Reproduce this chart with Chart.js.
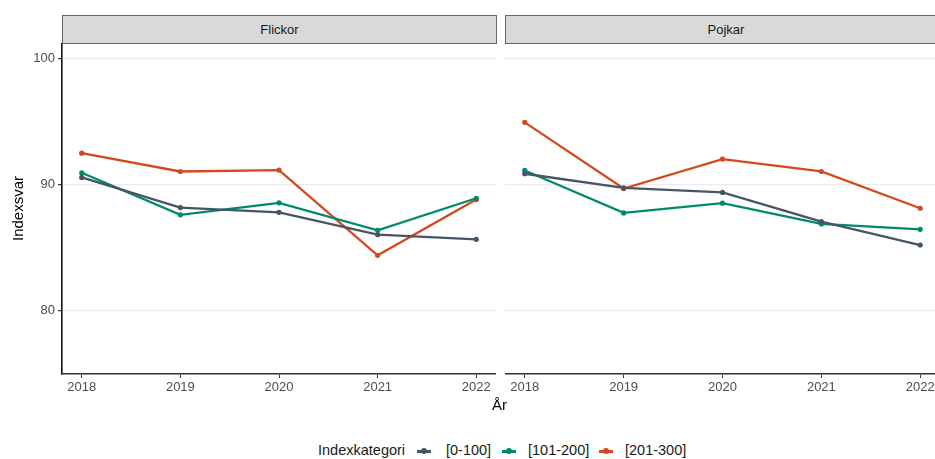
<!DOCTYPE html>
<html>
<head>
<meta charset="utf-8">
<script src="https://cdn.jsdelivr.net/npm/chart.js@4.4.1/dist/chart.umd.min.js"></script>
<style>
  body { margin: 0; background: #fff; font-family: "Liberation Sans", Arial, sans-serif; }
  #wrap { position: relative; width: 935px; height: 459px; overflow: hidden; }
  .strip { position: absolute; top: 15px; height: 27px; background: #d9d9d9; border: 1px solid #666;
           font-size: 13px; color: #1a1a1a; text-align: center; line-height: 27px; }
  .panel { position: absolute; top: 43px; height: 357px; }
  #xtitle { position: absolute; left: 492px; top: 396px; font-size: 15px; color: #000; }
  #legend { position: absolute; left: 0; top: 442px; width: 935px; height: 18px; font-size: 14.5px; color: #1a1a1a; }
  #legend span { position: absolute; top: 0; white-space: nowrap; }
  #legend .glyph { top: 8px; width: 14px; height: 3px; }
  .glyph i { position: absolute; left: 4px; top: -2px; width: 6px; height: 6px; border-radius: 50%; background: inherit; }
</style>
</head>
<body>
<div id="wrap">
  <div class="strip" style="left:62px;width:433px;">Flickor</div>
  <div class="strip" style="left:505px;width:440px;">Pojkar</div>
  <div class="panel" style="left:0;width:496px;"><canvas id="c-flickor"></canvas></div>
  <div class="panel" style="left:505px;width:435px;"><canvas id="c-pojkar"></canvas></div>
  <div id="xtitle">År</div>
  <div id="legend"></div>
</div>
<script>
// ===== Data =====
const years = [2018, 2019, 2020, 2021, 2022];
const categories = ['[0-100]', '[101-200]', '[201-300]'];
const colors = ['#455566', '#00896b', '#d5481f'];
const yTicks = [80, 90, 100];

const flickor0 = [90.56, 88.17, 87.80, 86.03, 85.66];
const flickor1 = [90.93, 87.60, 88.55, 86.37, 88.91];
const flickor2 = [92.48, 91.03, 91.14, 84.39, 88.81];

const pojkar0 = [90.85, 89.74, 89.37, 87.06, 85.21];
const pojkar1 = [91.11, 87.75, 88.52, 86.88, 86.45];
const pojkar2 = [94.92, 89.68, 92.01, 91.03, 88.12];

const FONT = { family: '"Liberation Sans", Arial, sans-serif', size: 13 };

function makeDatasets(series) {
  return series.map((vals, i) => ({
    label: categories[i],
    data: vals.map((v, j) => ({ x: years[j], y: v })),
    borderColor: colors[i],
    backgroundColor: colors[i],
    borderWidth: 2.3,
    pointRadius: 2.6,
    pointHoverRadius: 2.6,
    pointBorderWidth: 0,
    tension: 0
  }));
}

function makePanel(id, series, showY) {
  const ctx = document.getElementById(id);
  return new Chart(ctx, {
    type: 'line',
    data: { datasets: makeDatasets(series) },
    options: {
      responsive: true,
      maintainAspectRatio: false,
      animation: false,
      layout: { padding: 0, autoPadding: false },
      plugins: { legend: { display: false }, tooltip: { enabled: false } },
      scales: {
        x: {
          type: 'linear',
          min: 2017.8,
          max: 2022.2,
          afterBuildTicks: s => { s.ticks = years.map(v => ({ value: v })); },
          afterFit: s => { s.height = 26; s.paddingLeft = 0; s.paddingRight = 0; },
          grid: { display: true, drawOnChartArea: false, drawTicks: true, tickLength: 4, color: '#333', lineWidth: 1 },
          border: { display: true, color: '#333', width: 1.6 },
          ticks: { color: '#4d4d4d', font: FONT, padding: 2, callback: v => String(v), maxRotation: 0 }
        },
        y: {
          min: 75,
          max: 101.2,
          afterBuildTicks: s => { s.ticks = yTicks.map(v => ({ value: v })); },
          afterFit: s => { s.width = showY ? 62 : 0; s.paddingTop = 0; s.paddingBottom = 0; },
          grid: { color: '#ebebeb', lineWidth: 1.2, drawTicks: showY, tickLength: 4,
                  tickColor: '#333' },
          border: { display: showY, color: '#111', width: 1.6 },
          ticks: { display: showY, color: '#4d4d4d', font: FONT, padding: 3 },
          title: { display: showY, text: 'Indexsvar', color: '#000',
                   font: { family: FONT.family, size: 15 }, padding: { top: 10, bottom: 0 } }
        }
      }
    }
  });
}

makePanel('c-flickor', [flickor0, flickor1, flickor2], true);
makePanel('c-pojkar', [pojkar0, pojkar1, pojkar2], false);

// ===== Legend =====
const legendTextX = [446, 528, 625];
const legendGlyphX = [417, 502, 599];
const legend = document.getElementById('legend');
legend.innerHTML = '<span style="left:318px">Indexkategori</span>' + categories.map((c, i) => `
  <span class="glyph" style="left:${legendGlyphX[i]}px;background:${colors[i]}"><i></i></span>
  <span style="left:${legendTextX[i]}px">${c}</span>`).join('');
</script>
</body>
</html>
